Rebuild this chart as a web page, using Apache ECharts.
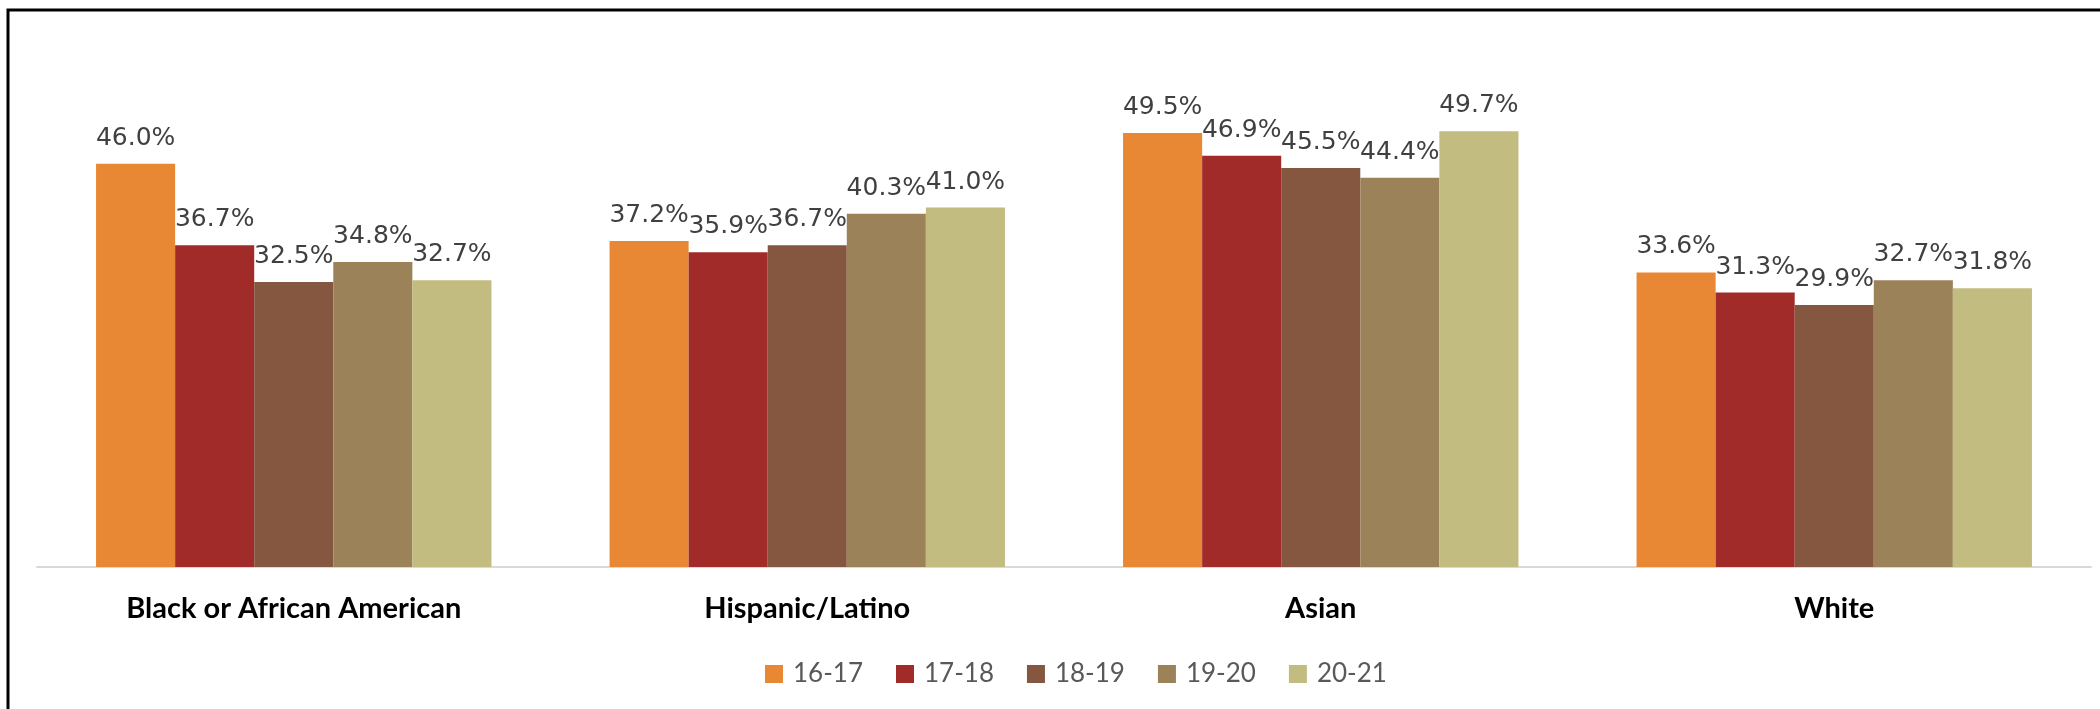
<!DOCTYPE html>
<html>
<head>
<meta charset="utf-8">
<script src="https://cdn.jsdelivr.net/npm/echarts@6/dist/echarts.min.js"></script>
<style>
html,body{margin:0;padding:0;background:#fff;}
#chart{width:2100px;height:709px;}
</style>
</head>
<body>
<div id="chart"></div>
<script>
const categories = ['Black or African American', 'Hispanic/Latino', 'Asian', 'White'];
const seriesNames = ['16-17', '17-18', '18-19', '19-20', '20-21'];
const s1617 = [46.0, 37.2, 49.5, 33.6];
const s1718 = [36.7, 35.9, 46.9, 31.3];
const s1819 = [32.5, 36.7, 45.5, 29.9];
const s1920 = [34.8, 40.3, 44.4, 32.7];
const s2021 = [32.7, 41.0, 49.7, 31.8];
const colors = ['#E98834', '#A12B29', '#855741', '#9B8258', '#C2BC80'];

const allValues = [s1617, s1718, s1819, s1920, s2021];

const chart = echarts.init(document.getElementById('chart'));
chart.setOption({
  animation: false,
  backgroundColor: '#ffffff',
  graphic: [{
    type: 'rect',
    shape: { x: 8, y: 10, width: 2200, height: 800 },
    style: { fill: 'none', stroke: '#000000', lineWidth: 3 },
    z: -10,
    silent: true
  }],
  legend: {
    data: seriesNames,
    left: 760,
    top: 656,
    itemWidth: 18,
    itemHeight: 18,
    itemGap: 33,
    icon: 'rect',
    textStyle: { fontFamily: 'Lato', fontSize: 26, color: '#595959', padding: [0, 0, 0, 5] }
  },
  grid: { left: 37, right: 9, top: 41, bottom: 142, containLabel: false },
  xAxis: {
    type: 'category',
    data: categories,
    axisLine: { lineStyle: { color: '#D9D9D9', width: 2 } },
    axisTick: { show: false },
    axisLabel: { margin: 27, fontFamily: 'Lato', fontWeight: 'bold', fontSize: 29, color: '#000000' }
  },
  yAxis: {
    type: 'value',
    min: 0,
    max: 60,
    show: false,
    splitLine: { show: false }
  },
  series: seriesNames.map((name, i) => ({
    name: name,
    type: 'bar',
    data: allValues[i],
    barGap: '0%',
    barCategoryGap: '23%',
    itemStyle: { color: colors[i] },
    label: {
      show: true,
      position: 'top',
      distance: 13,
      fontFamily: 'DejaVu Sans',
      fontSize: 25,
      color: '#404040',
      formatter: p => p.value.toFixed(1) + '%'
    }
  }))
});
</script>
</body>
</html>
